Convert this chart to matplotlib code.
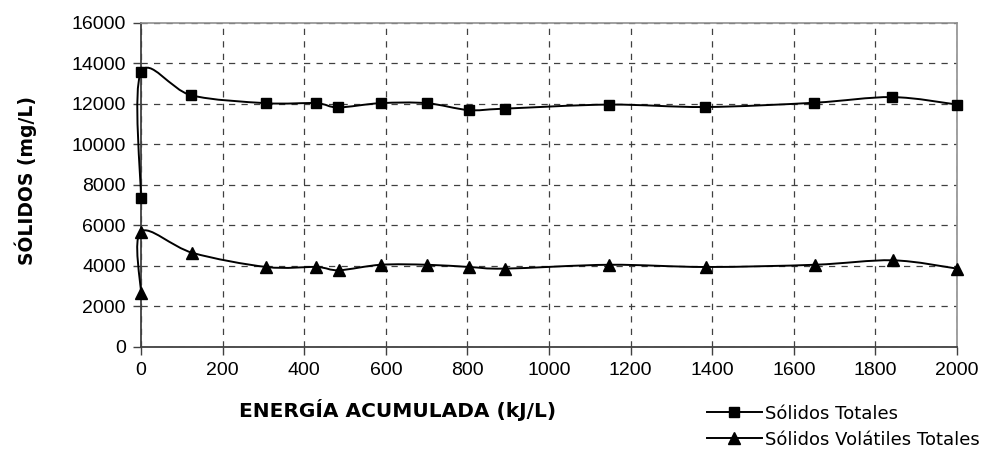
import numpy as np
import matplotlib
matplotlib.use('Agg')
import matplotlib.pyplot as plt
from matplotlib.path import Path
from matplotlib.patches import PathPatch
from matplotlib.lines import Line2D

# data
energia_st = [0, 0, 123, 306, 429, 483, 587, 700, 803, 891, 1147, 1383, 1649, 1841, 2000]
solidos_totales = [7340, 13560, 12430, 12040, 12040, 11830, 12040, 12040, 11700, 11770, 11970, 11850, 12060, 12340, 11970]

energia_svt = [0, 0, 126, 307, 430, 485, 588, 702, 805, 893, 1148, 1385, 1651, 1843, 2000]
solidos_volatiles = [2650, 5700, 4650, 3950, 3950, 3790, 4060, 4060, 3950, 3870, 4060, 3950, 4060, 4280, 3870]

x_ticks = [0, 200, 400, 600, 800, 1000, 1200, 1400, 1600, 1800, 2000]
y_ticks = [0, 2000, 4000, 6000, 8000, 10000, 12000, 14000, 16000]


def smooth_path(xs, ys):
    # Catmull-Rom style bezier through the points (like Excel "smoothed line")
    p = np.column_stack([xs, ys]).astype(float)
    n = len(p)
    verts = [p[0]]
    codes = [Path.MOVETO]
    for i in range(n - 1):
        p0 = p[i - 1] if i > 0 else p[i]
        p1 = p[i]
        p2 = p[i + 1]
        p3 = p[i + 2] if i + 2 < n else p[i + 1]
        c1 = p1 + (p2 - p0) / 6.0
        c2 = p2 - (p3 - p1) / 6.0
        verts += [c1, c2, p2]
        codes += [Path.CURVE4] * 3
    return Path(verts, codes)


fig = plt.figure(figsize=(9.84, 4.55), dpi=100)
ax = fig.add_axes([0.1433, 0.2374, 0.8293, 0.7121])

for xs, ys, mk, ms in [(energia_st, solidos_totales, 's', 7.5),
                       (energia_svt, solidos_volatiles, '^', 8.5)]:
    ax.add_patch(PathPatch(smooth_path(xs, ys), fill=False, edgecolor='black',
                           lw=1.4, zorder=5, clip_on=False))
    ax.plot(xs, ys, linestyle='none', marker=mk, ms=ms, color='black',
            zorder=6, clip_on=False)

ax.set_xlim(0, 2000)
ax.set_ylim(0, 16000)
ax.set_xticks(x_ticks)
ax.set_yticks(y_ticks)
ax.grid(True, color='#404040', linestyle=(0, (5, 5)), lw=0.9)
ax.set_axisbelow(True)

for side in ['top', 'right']:
    ax.spines[side].set_color('#909090')
    ax.spines[side].set_linewidth(1.2)
for side in ['left', 'bottom']:
    ax.spines[side].set_color('#404040')
    ax.spines[side].set_linewidth(1.3)

ax.tick_params(direction='out', length=6, width=1, color='#404040',
               labelsize=14, pad=5)
for lab in ax.get_xticklabels() + ax.get_yticklabels():
    lab.set_fontfamily('Liberation Sans')

ax.set_ylabel('SÓLIDOS (mg/L)', fontsize=13.5, fontweight='bold', family='DejaVu Sans')
ax.yaxis.set_label_coords(-0.128, 0.515)
fig.text(0.404, 0.099, 'ENERGÍA ACUMULADA (kJ/L)', fontsize=14.5, fontweight='bold',
         family='DejaVu Sans', ha='center', va='center')

handles = [Line2D([], [], color='black', lw=1.4, marker='s', ms=7),
           Line2D([], [], color='black', lw=1.4, marker='^', ms=8)]
fig.legend(handles, ['Sólidos Totales', 'Sólidos Volátiles Totales'],
           loc='lower left', bbox_to_anchor=(0.706, -0.014), frameon=False,
           prop={'family': 'DejaVu Sans', 'size': 13}, handlelength=3.0,
           handletextpad=0.2, labelspacing=0.45, borderpad=0.2)

fig.savefig('out.png', dpi=100)
